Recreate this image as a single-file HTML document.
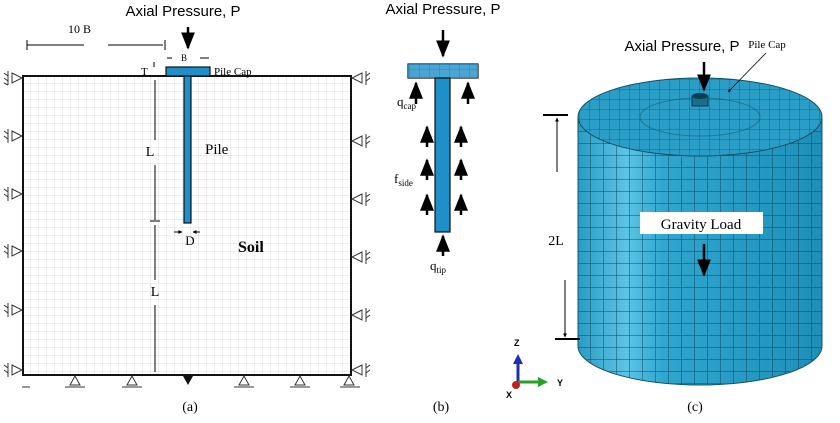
<!DOCTYPE html>
<html><head><meta charset="utf-8"><style>
body{margin:0;background:#fff;}
svg{display:block}
.s{font-family:"Liberation Sans",sans-serif}
.r{font-family:"Liberation Serif",serif}
</style></head><body>
<svg width="840" height="423" viewBox="0 0 840 423" xmlns="http://www.w3.org/2000/svg">
<defs>
<pattern id="g" width="8" height="8" patternUnits="userSpaceOnUse" x="23" y="76">
<path d="M8 0V8H0" fill="none" stroke="#cfcfcf" stroke-width="0.8"/></pattern>
<pattern id="m" width="10" height="10" patternUnits="userSpaceOnUse">
<path d="M10 0V10H0" fill="none" stroke="#12475a" stroke-width="0.8"/></pattern>
<pattern id="m2" width="13" height="12" patternUnits="userSpaceOnUse" x="578">
<path d="M13 0V12H0" fill="none" stroke="#12475a" stroke-width="1"/></pattern>
<linearGradient id="cg" x1="0" x2="1">
<stop offset="0" stop-color="#2a9cc4"/><stop offset="0.2" stop-color="#5cc4e6"/>
<stop offset="0.35" stop-color="#2fa6cf"/><stop offset="1" stop-color="#1e8fb8"/></linearGradient>
<marker id="ah" viewBox="0 0 10 10" refX="9" refY="5" markerWidth="7" markerHeight="7" orient="auto"><path d="M0 1L10 5L0 9z" fill="#000"/></marker>
<marker id="as" viewBox="0 0 10 10" refX="9" refY="5" markerWidth="4" markerHeight="4" orient="auto"><path d="M0 0L10 5L0 10z" fill="#000"/></marker>
</defs>

<!-- Panel a -->
<text x="183" y="16" class="s" font-size="15" text-anchor="middle">Axial Pressure, P</text>
<line x1="188" y1="27" x2="188" y2="48" stroke="#000" stroke-width="2.5" marker-end="url(#ah)"/>
<text x="68" y="33" class="r" font-size="12">10 B</text>
<line x1="27" y1="45" x2="84" y2="45" stroke="#000"/><line x1="108" y1="45" x2="163" y2="45" stroke="#000"/>
<line x1="27" y1="40" x2="27" y2="50" stroke="#000"/><line x1="165" y1="40" x2="165" y2="50" stroke="#000"/>
<rect x="23" y="76" width="328" height="299" fill="url(#g)" stroke="#111" stroke-width="2"/>
<rect x="166" y="67" width="44" height="9" fill="#1e8fc8" stroke="#111" stroke-width="1.2"/>
<rect x="184" y="76" width="7" height="147" fill="#1e8fc8" stroke="#111" stroke-width="1.2"/>
<text x="214" y="75" class="r" font-size="11">Pile Cap</text>
<text x="184" y="61" class="r" font-size="9" text-anchor="middle">B</text>
<line x1="167" y1="58" x2="172" y2="58" stroke="#000"/><line x1="200" y1="58" x2="209" y2="58" stroke="#000"/>
<text x="141" y="75" class="r" font-size="11">T</text>
<line x1="154" y1="62" x2="154" y2="67" stroke="#000"/>
<line x1="155" y1="80" x2="155" y2="140" stroke="#000"/>
<text x="150" y="156" class="r" font-size="14" text-anchor="middle">L</text>
<line x1="155" y1="165" x2="155" y2="220" stroke="#000"/>
<line x1="150" y1="221" x2="160" y2="221" stroke="#000"/>
<line x1="155" y1="225" x2="155" y2="280" stroke="#000"/>
<text x="155" y="296" class="r" font-size="14" text-anchor="middle">L</text>
<line x1="155" y1="305" x2="155" y2="372" stroke="#000"/>
<text x="205" y="154" class="r" font-size="15">Pile</text>
<text x="190" y="245" class="r" font-size="13" text-anchor="middle">D</text>
<text x="238" y="252" class="r" font-size="16" font-weight="bold">Soil</text>
<line x1="174" y1="232" x2="182" y2="232" stroke="#000" marker-end="url(#as)"/>
<line x1="200" y1="232" x2="193" y2="232" stroke="#000" marker-end="url(#as)"/>
<g stroke="#333" fill="none" stroke-width="1">
<path d="M12 73L22 78L12 83z M8 71v14 M4 73l4 3 M4 78l4 3 M4 83l4 2"/>
<path d="M12 131L22 136L12 141z M8 129v14 M4 131l4 3 M4 136l4 3"/>
<path d="M12 189L22 194L12 199z M8 187v14 M4 189l4 3 M4 194l4 3"/>
<path d="M12 246L22 251L12 256z M8 244v14 M4 246l4 3 M4 251l4 3"/>
<path d="M12 305L22 310L12 315z M8 303v14 M4 305l4 3 M4 310l4 3"/>
<path d="M12 365L22 370L12 375z M8 363v14 M4 365l4 3 M4 370l4 3"/>
<path d="M362 73L352 78L362 83z M366 71v14 M370 73l-4 3 M370 78l-4 3"/>
<path d="M362 136L352 141L362 146z M366 134v14 M370 136l-4 3 M370 141l-4 3"/>
<path d="M362 194L352 199L362 204z M366 192v14 M370 194l-4 3 M370 199l-4 3"/>
<path d="M362 252L352 257L362 262z M366 250v14 M370 252l-4 3 M370 257l-4 3"/>
<path d="M362 310L352 315L362 320z M366 308v14 M370 310l-4 3 M370 315l-4 3"/>
<path d="M362 365L352 370L362 375z M366 363v14 M370 365l-4 3 M370 370l-4 3"/>
<path d="M70 385L75 376L80 385z M127 385L132 376L137 385z M239 385L244 376L249 385z M295 385L300 376L305 385z M344 385L349 376L354 385z"/>
<path d="M22 387H30 M65 387H85 M122 387H142 M234 387H254 M290 387H310 M340 387H360"/>
</g>
<path d="M183 376L193 376L188 385z" fill="#111"/>
<text x="190" y="411" class="r" font-size="14" text-anchor="middle">(a)</text>

<!-- Panel b -->
<text x="443" y="14" class="s" font-size="15" text-anchor="middle">Axial Pressure, P</text>
<line x1="443" y1="30" x2="443" y2="56" stroke="#000" stroke-width="2.5" marker-end="url(#ah)"/>
<rect x="408" y="64" width="70" height="14" fill="url(#m)" stroke="#111" stroke-width="1.2"/>
<rect x="408" y="64" width="70" height="14" fill="#1e8fc8" opacity="0.8"/>
<rect x="435" y="78" width="15" height="154" fill="#1e8fc8" stroke="#111" stroke-width="1.2"/>
<g stroke="#000" stroke-width="2.5">
<line x1="416" y1="104" x2="416" y2="83" marker-end="url(#ah)"/><line x1="468" y1="104" x2="468" y2="83" marker-end="url(#ah)"/>
<line x1="427" y1="147" x2="427" y2="127" marker-end="url(#ah)"/><line x1="461" y1="147" x2="461" y2="127" marker-end="url(#ah)"/>
<line x1="427" y1="180" x2="427" y2="160" marker-end="url(#ah)"/><line x1="461" y1="180" x2="461" y2="160" marker-end="url(#ah)"/>
<line x1="427" y1="215" x2="427" y2="195" marker-end="url(#ah)"/><line x1="461" y1="215" x2="461" y2="195" marker-end="url(#ah)"/>
<line x1="443" y1="256" x2="443" y2="236" marker-end="url(#ah)"/>
</g>
<text x="397" y="106" class="r" font-size="13">q<tspan font-size="9" dy="3">cap</tspan></text>
<text x="394" y="183" class="r" font-size="13">f<tspan font-size="9" dy="3">side</tspan></text>
<text x="430" y="270" class="r" font-size="13">q<tspan font-size="9" dy="3">tip</tspan></text>
<text x="441" y="411" class="r" font-size="14" text-anchor="middle">(b)</text>

<!-- Panel c -->
<path d="M578 117 V346 A122 39 0 0 0 822 346 V117z" fill="url(#cg)"/>
<path d="M578 117 V346 A122 39 0 0 0 822 346 V117z" fill="url(#m2)"/>
<path d="M578 117 V346 A122 39 0 0 0 822 346 V117" fill="none" stroke="#174f63" stroke-width="1"/>
<ellipse cx="700" cy="117" rx="122" ry="39" fill="#2a9ec7" stroke="#174f63"/>
<ellipse cx="700" cy="117" rx="122" ry="39" fill="url(#m)" opacity="0.8"/>
<ellipse cx="700" cy="117" rx="60" ry="19" fill="none" stroke="#174f63" opacity="0.5"/>
<rect x="692" y="96" width="16" height="10" fill="#1a6d8c" stroke="#0d3d4e"/>
<ellipse cx="700" cy="96" rx="8" ry="3" fill="#0d3d4e"/>
<text x="682" y="51" class="s" font-size="15" text-anchor="middle">Axial Pressure, P</text>
<text x="767" y="48" class="r" font-size="11" text-anchor="middle">Pile Cap</text>
<line x1="766" y1="53" x2="728" y2="92" stroke="#000" stroke-width="0.8" marker-end="url(#as)"/>
<line x1="704" y1="62" x2="704" y2="90" stroke="#000" stroke-width="2.5" marker-end="url(#ah)"/>
<rect x="640" y="212" width="123" height="22" fill="#fff"/>
<text x="701" y="229" class="r" font-size="15" text-anchor="middle">Gravity Load</text>
<line x1="704" y1="244" x2="704" y2="275" stroke="#000" stroke-width="2.5" marker-end="url(#ah)"/>
<line x1="543" y1="115" x2="568" y2="115" stroke="#000" stroke-width="2"/>
<line x1="557" y1="172" x2="557" y2="118" stroke="#000" marker-end="url(#as)"/>
<text x="556" y="245" class="r" font-size="14" text-anchor="middle">2L</text>
<line x1="565" y1="280" x2="565" y2="337" stroke="#000" marker-end="url(#as)"/>
<line x1="555" y1="339" x2="580" y2="339" stroke="#000" stroke-width="2"/>
<text x="695" y="411" class="r" font-size="14" text-anchor="middle">(c)</text>
<line x1="518" y1="382" x2="518" y2="362" stroke="#1f2fb0" stroke-width="3"/>
<path d="M513 364L518 354L523 364z" fill="#1f2fb0"/>
<line x1="518" y1="382" x2="540" y2="382" stroke="#2aa02a" stroke-width="3"/>
<path d="M538 377L548 382L538 387z" fill="#2aa02a"/>
<circle cx="516" cy="385" r="4" fill="#c02020"/>
<text x="514" y="346" class="s" font-size="9" font-weight="bold">Z</text>
<text x="557" y="386" class="s" font-size="9" font-weight="bold">Y</text>
<text x="506" y="398" class="s" font-size="9" font-weight="bold">X</text>
</svg>
</body></html>
